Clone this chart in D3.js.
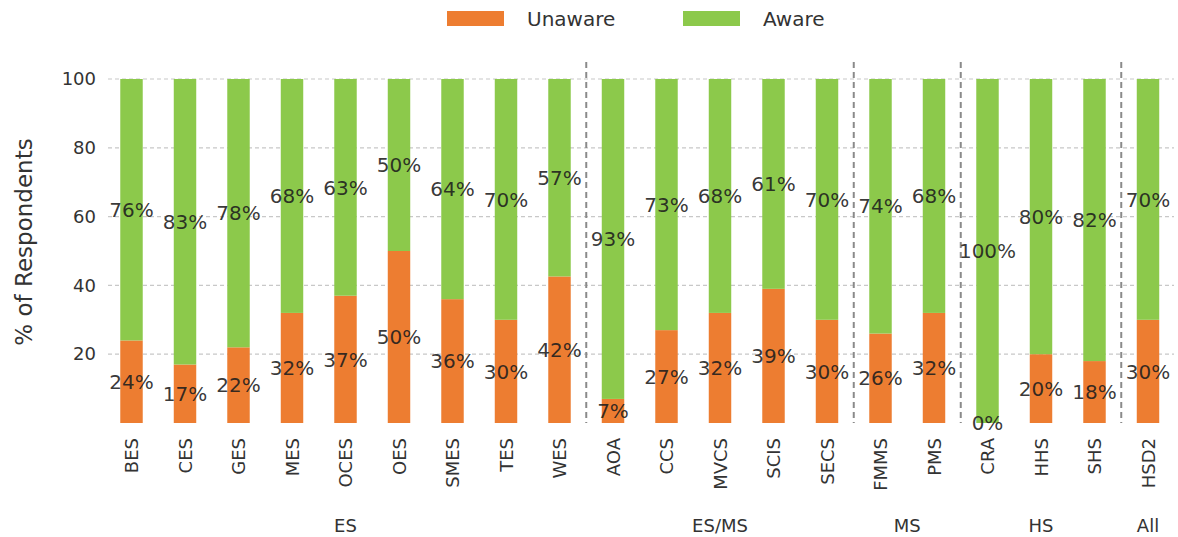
<!DOCTYPE html>
<html>
<head>
<meta charset="utf-8">
<script src="https://cdn.jsdelivr.net/npm/d3@7"></script>
<style>
	html, body { margin: 0; padding: 0; background: #fff; }
	text { font-family: "DejaVu Sans", sans-serif; }
</style>
</head>
<body>
<div id="chart"></div>
<script>
"use strict";

const width = 1178, height = 537;

//  Data (labels are truncated to whole percent, like "%d%%")
const schools = ['BES', 'CES', 'GES', 'MES', 'OCES', 'OES', 'SMES', 'TES', 'WES',
	'AOA', 'CCS', 'MVCS', 'SCIS', 'SECS', 'FMMS', 'PMS', 'CRA', 'HHS', 'SHS', 'HSD2'];
const unaware = [24, 17, 22, 32, 37, 50, 36, 30, 42.6, 7, 27, 32, 39, 30, 26, 32, 0, 20, 18, 30];
const aware = [76, 83, 78, 68, 63, 50, 64, 70, 57.4, 93, 73, 68, 61, 70, 74, 68, 100, 80, 82, 70];
const groups = [
	{ name: 'ES', first: 'BES', last: 'WES' },
	{ name: 'ES/MS', first: 'AOA', last: 'SECS' },
	{ name: 'MS', first: 'FMMS', last: 'PMS' },
	{ name: 'HS', first: 'CRA', last: 'SHS' },
	{ name: 'All', first: 'HSD2', last: 'HSD2' }
];
const yTicks = [20, 40, 60, 80, 100];
const seriesNames = ['Unaware', 'Aware'];
const colors = ['#ED7D31', '#8CC94B'];

const rows = schools.map((s, i) => ({ school: s, Unaware: unaware[i], Aware: aware[i] }));

//  Scales
const x = d3.scalePoint().domain(schools).range([104.75, 1174.75]).padding(0.5);
const barWidth = x.step() * 0.42;
const y = d3.scaleLinear().domain([0, 100]).range([423, 79]);

const svg = d3.select('#chart').append('svg')
	.attr('width', width)
	.attr('height', height);

//  Grid
svg.append('g').selectAll('line')
	.data(yTicks)
	.join('line')
		.attr('x1', 108).attr('x2', 1174)
		.attr('y1', d => y(d)).attr('y2', d => y(d))
		.attr('stroke', '#c8c8c8')
		.attr('stroke-width', 1.2)
		.attr('stroke-dasharray', '4,3');

//  Stacked bars
const stack = d3.stack().keys(seriesNames)(rows);

svg.append('g').selectAll('g')
	.data(stack)
	.join('g')
		.attr('fill', (d, i) => colors[i])
	.selectAll('rect')
	.data(d => d)
	.join('rect')
		.attr('x', d => x(d.data.school) - barWidth / 2)
		.attr('width', barWidth)
		.attr('y', d => y(d[1]))
		.attr('height', d => y(d[0]) - y(d[1]));

//  Group dividers
const dividers = groups.slice(1).map(g => (x(g.first) + x(schools[schools.indexOf(g.first) - 1])) / 2);
svg.append('g').selectAll('line')
	.data(dividers)
	.join('line')
		.attr('x1', d => d).attr('x2', d => d)
		.attr('y1', 62).attr('y2', 423)
		.attr('stroke', '#8a8a8a')
		.attr('stroke-width', 2)
		.attr('stroke-dasharray', '6,4');

//  Value labels
svg.append('g').selectAll('g')
	.data(stack)
	.join('g')
	.selectAll('text')
	.data(d => d.map(seg => Object.assign(seg, { key: d.key })))
	.join('text')
		.attr('x', d => x(d.data.school))
		.attr('y', d => y((d[0] + d[1]) / 2))
		.attr('dy', '0.36em')
		.attr('text-anchor', 'middle')
		.attr('font-size', 20)
		.attr('fill', '#1e1e1e')
		.attr('fill-opacity', 0.9)
		.text(d => Math.floor(d.data[d.key]) + '%');

//  Y axis
const yAxis = svg.append('g')
	.attr('transform', 'translate(104,0)')
	.call(d3.axisLeft(y).tickValues(yTicks).tickSize(0).tickPadding(8));
yAxis.select('.domain').remove();
yAxis.selectAll('text')
	.attr('font-size', 18)
	.attr('fill', '#333')
	.style('font-family', '"DejaVu Sans", sans-serif');

svg.append('text')
	.attr('transform', 'translate(32,242) rotate(-90)')
	.attr('text-anchor', 'middle')
	.attr('font-size', 23)
	.attr('fill', '#333')
	.text('% of Respondents');

//  X axis (school names)
const xAxis = svg.append('g')
	.attr('transform', 'translate(0,423)')
	.call(d3.axisBottom(x).tickSize(0).tickPadding(0));
xAxis.select('.domain').remove();
xAxis.selectAll('text')
	.attr('transform', 'rotate(-90)')
	.attr('x', -15)
	.attr('y', 0)
	.attr('dy', '0.35em')
	.attr('text-anchor', 'end')
	.attr('font-size', 18)
	.attr('fill', '#333')
	.style('font-family', '"DejaVu Sans", sans-serif');

//  Group labels
svg.append('g').selectAll('text')
	.data(groups)
	.join('text')
		.attr('x', g => (x(g.first) + x(g.last)) / 2)
		.attr('y', 532)
		.attr('text-anchor', 'middle')
		.attr('font-size', 18)
		.attr('fill', '#333')
		.text(g => g.name);

//  Legend
const legendX = [447, 683];
const legend = svg.append('g').selectAll('g')
	.data(seriesNames)
	.join('g')
		.attr('transform', (d, i) => `translate(${legendX[i]},11)`);
legend.append('rect')
	.attr('width', 57)
	.attr('height', 15)
	.attr('fill', (d, i) => colors[i]);
legend.append('text')
	.attr('x', 80)
	.attr('y', 8)
	.attr('dy', '0.36em')
	.attr('font-size', 20)
	.attr('fill', '#333')
	.text(d => d);
</script>
</body>
</html>
